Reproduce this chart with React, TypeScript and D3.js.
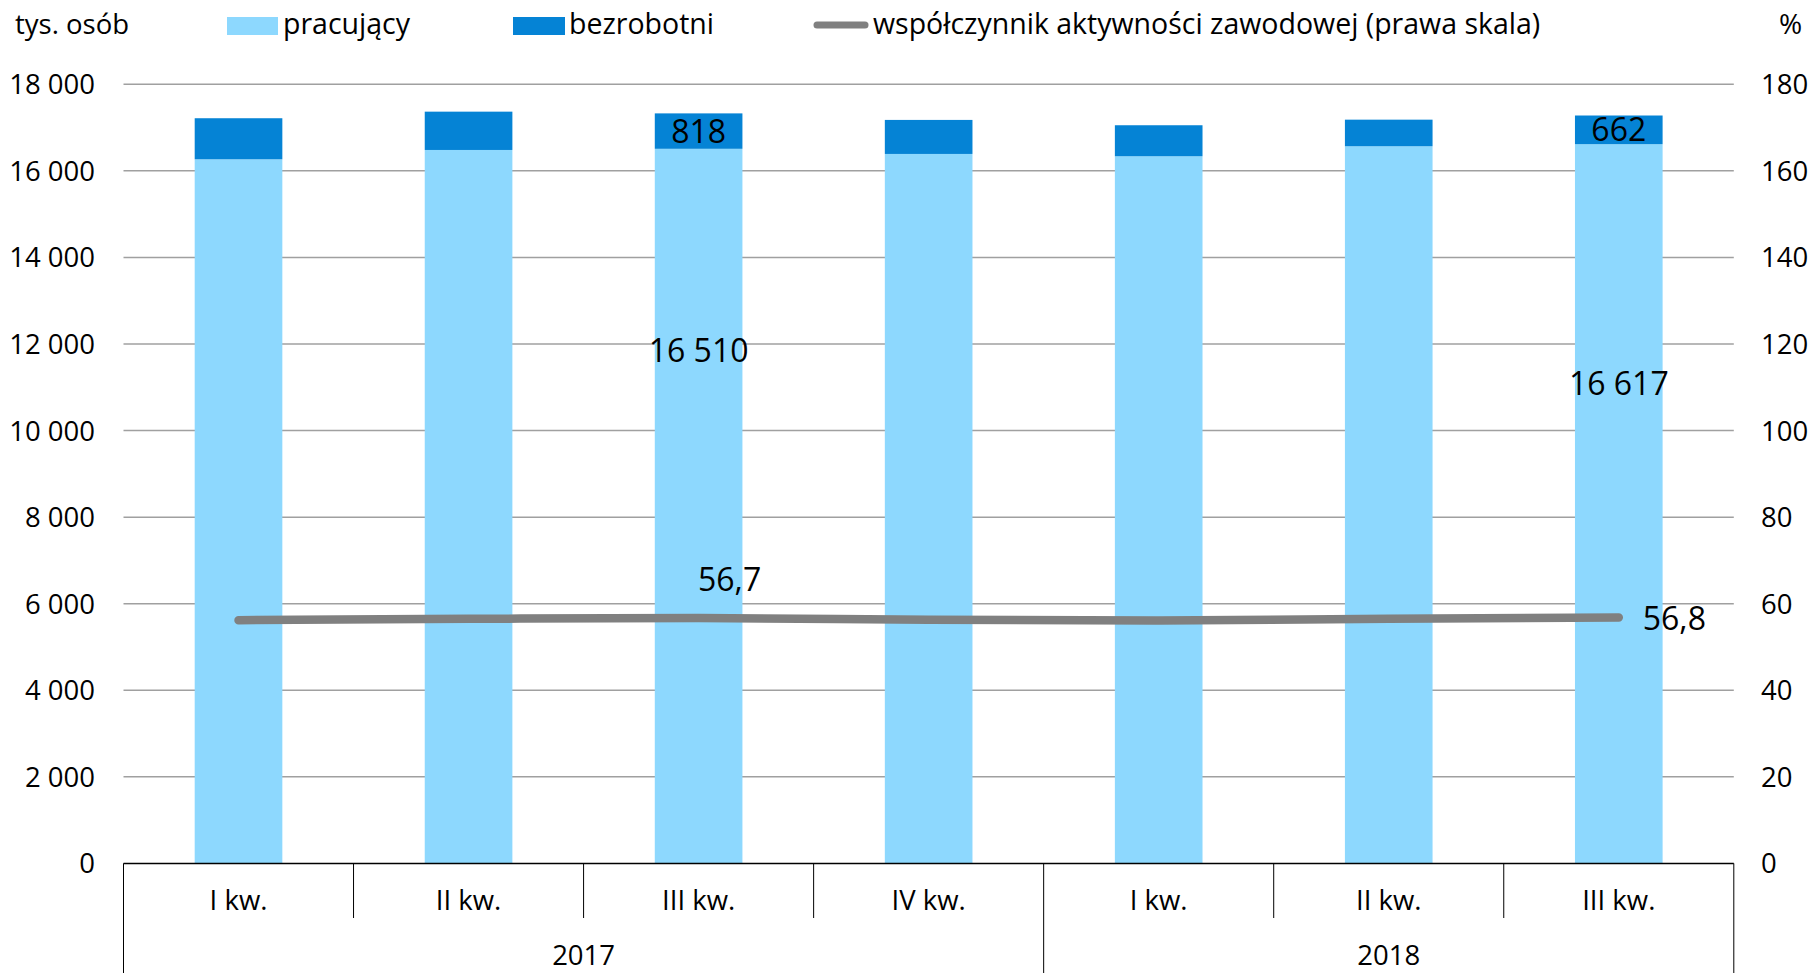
import React from "react";
import * as d3 from "d3";

const categories = ["I kw.", "II kw.", "III kw.", "IV kw.", "I kw.", "II kw.", "III kw."];
const years = ["2017", "2018"];
const yearSpans = [4, 3];
const employed = [16268, 16483, 16510, 16391, 16338, 16569, 16617];
const unemployed = [948, 885, 818, 786, 716, 614, 662];
const activity = [56.2, 56.5, 56.7, 56.3, 56.1, 56.5, 56.8];
const leftTicks = [0, 2000, 4000, 6000, 8000, 10000, 12000, 14000, 16000, 18000];
const rightTicks = [0, 20, 40, 60, 80, 100, 120, 140, 160, 180];
const labelIdx = [2, 6];

const W = 1810;
const H = 973;
const FONT = "'Open Sans', 'Noto Sans', sans-serif";
const LIGHT = "#8DD8FE";
const DARK = "#0583D5";
const LINE = "#808080";

const fmt = (v: number) => d3.format(",")(v).replace(/,/g, " ");
const fmtDec = (v: number) => v.toFixed(1).replace(".", ",");

export default function App() {
  const left = 123.5;
  const right = 1733.8;
  const y0 = 863.4;
  const yTop = 84.3;
  const idx = categories.map((_, i) => i);
  const x = d3.scaleBand<number>().domain(idx).range([left, right]).paddingInner(0).paddingOuter(0);
  const bw = x.bandwidth() * 0.381;
  const yL = d3.scaleLinear().domain([0, 18000]).range([y0, yTop]);
  const yR = d3.scaleLinear().domain([0, 180]).range([y0, yTop]);
  const cx = (i: number) => (x(i) as number) + x.bandwidth() / 2;

  const line = d3
    .line<number>()
    .x((_, i) => cx(i))
    .y((d) => yR(d))
    .curve(d3.curveMonotoneX);

  let acc = 0;
  const yearBounds = yearSpans.map((n) => {
    const s = acc;
    acc += n;
    return [s, acc];
  });

  return (
    <div style={{ position: "absolute", left: 0, top: 0 }}>
      <svg width={W} height={H} style={{ display: "block", background: "#fff" }} fontFamily={FONT}>
        {/* legend */}
        <text x={15} y={34} fontSize={27.5} fill="#000">tys. osób</text>
        <rect x={227} y={17} width={51} height={18} fill={LIGHT} />
        <text x={283} y={34} fontSize={28.5} fill="#000">pracujący</text>
        <rect x={513} y={17} width={52} height={18} fill={DARK} />
        <text x={569} y={34} fontSize={28.5} fill="#000">bezrobotni</text>
        <line x1={817} y1={25} x2={865} y2={25} stroke={LINE} strokeWidth={7} strokeLinecap="round" />
        <text x={873} y={34} fontSize={28.5} fill="#000">współczynnik aktywności zawodowej (prawa skala)</text>
        <text x={1779} y={34} fontSize={28} fill="#000">%</text>

        {/* gridlines */}
        {leftTicks.filter((t) => t > 0).map((t) => (
          <line key={t} x1={left} x2={right} y1={yL(t)} y2={yL(t)} stroke="#A0A0A0" strokeWidth={1.5} />
        ))}

        {/* left ticks */}
        {leftTicks.map((t) => (
          <text key={t} x={95} y={yL(t) + 10} fontSize={27.5} textAnchor="end" fill="#000">
            {fmt(t)}
          </text>
        ))}
        {/* right ticks */}
        {rightTicks.map((t) => (
          <text key={t} x={1761} y={yR(t) + 10} fontSize={27.5} textAnchor="start" fill="#000">
            {t}
          </text>
        ))}

        {/* bars */}
        {idx.map((i) => (
          <g key={i}>
            <rect x={cx(i) - bw / 2} y={yL(employed[i])} width={bw} height={y0 - yL(employed[i])} fill={LIGHT} />
            <rect
              x={cx(i) - bw / 2}
              y={yL(employed[i] + unemployed[i])}
              width={bw}
              height={yL(employed[i]) - yL(employed[i] + unemployed[i])}
              fill={DARK}
            />
          </g>
        ))}

        {/* line */}
        <path d={line(activity) || ""} fill="none" stroke={LINE} strokeWidth={8.5} strokeLinecap="round" />

        {/* data labels */}
        {labelIdx.map((i) => (
          <text
            key={i}
            x={cx(i)}
            y={(yL(employed[i] + unemployed[i]) + yL(employed[i])) / 2 + 11.5}
            fontSize={32}
            textAnchor="middle"
            fill="#000"
          >
            {fmt(unemployed[i])}
          </text>
        ))}
        <text x={cx(2)} y={361.5} fontSize={32} textAnchor="middle" fill="#000">{fmt(employed[2])}</text>
        <text x={cx(6)} y={395} fontSize={32} textAnchor="middle" fill="#000">{fmt(employed[6])}</text>
        <text x={cx(2) + 31} y={yR(activity[2]) - 27} fontSize={32} textAnchor="middle" fill="#000">
          {fmtDec(activity[2])}
        </text>
        <text x={cx(6) + 24} y={yR(activity[6]) + 12} fontSize={32} textAnchor="start" fill="#000">
          {fmtDec(activity[6])}
        </text>

        {/* axis baseline */}
        <line x1={left} x2={right} y1={y0} y2={y0} stroke="#000" strokeWidth={1.5} />

        {/* category separators */}
        {d3.range(categories.length + 1).map((k) => {
          const xx = k < categories.length ? (x(k) as number) : right;
          const isYear = k === 0 || k === categories.length || yearBounds.some((b) => b[0] === k);
          return (
            <line key={k} x1={xx} x2={xx} y1={y0} y2={isYear ? H : 918} stroke="#000" strokeWidth={1} />
          );
        })}

        {/* category labels */}
        {idx.map((i) => (
          <text key={i} x={cx(i)} y={910} fontSize={27.5} textAnchor="middle" fill="#000">
            {categories[i]}
          </text>
        ))}
        {/* year labels */}
        {years.map((yr, j) => {
          const [s, e] = yearBounds[j];
          const xm = ((x(s) as number) + (e < categories.length ? (x(e) as number) : right)) / 2;
          return (
            <text key={yr} x={xm} y={965} fontSize={27.5} textAnchor="middle" fill="#000">
              {yr}
            </text>
          );
        })}
      </svg>
    </div>
  );
}
